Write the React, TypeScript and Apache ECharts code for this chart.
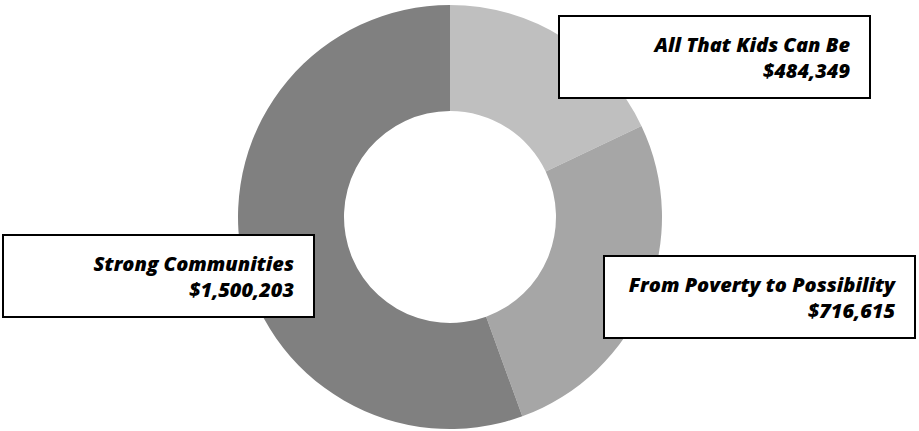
import React, { useEffect, useRef } from "react";
import * as echarts from "echarts";

const categories = ["All That Kids Can Be", "From Poverty to Possibility", "Strong Communities"];
const amounts = [484349, 716615, 1500203];
const sliceColors = ["#bfbfbf", "#a6a6a6", "#808080"];

// label box anchors (right edge, vertical middle) per slice
const labelAnchors = [
  { x: 869, y: 57 },
  { x: 914, y: 297 },
  { x: 313, y: 276 },
];

export default function App() {
  const ref = useRef<HTMLDivElement>(null);
  useEffect(() => {
    if (!ref.current) return;
    const chart = echarts.init(ref.current, null, { renderer: "svg" });
    chart.setOption({
      animation: false,
      backgroundColor: "#ffffff",
      series: [
        {
          type: "pie",
          center: [450, 217],
          radius: [106, 212],
          startAngle: 90,
          clockwise: true,
          silent: true,
          data: categories.map((name, i) => ({
            name,
            value: amounts[i],
            itemStyle: { color: sliceColors[i] },
          })),
          labelLine: { show: false },
          label: {
            show: true,
            position: "outside",
            formatter: (p: any) => `${p.name}\n$${Number(p.value).toLocaleString("en-US")}`,
            color: "#000",
            fontFamily: "Open Sans",
            fontStyle: "italic",
            fontWeight: 800,
            fontSize: 20,
            lineHeight: 26,
            align: "right",
            width: 290,
            backgroundColor: "#ffffff",
            borderColor: "#000000",
            borderWidth: 2,
            padding: [8, 19, 20, 0],
          },
          labelLayout: (params: any) => {
            const a = labelAnchors[params.dataIndex];
            return { x: a.x, y: a.y, align: "right", verticalAlign: "middle", hideOverlap: false };
          },
          emphasis: { disabled: true },
        },
      ],
    });
    return () => chart.dispose();
  }, []);
  return (
    <div
      ref={ref}
      style={{ position: "absolute", left: 0, top: 0, width: 919, height: 431 }}
    />
  );
}
